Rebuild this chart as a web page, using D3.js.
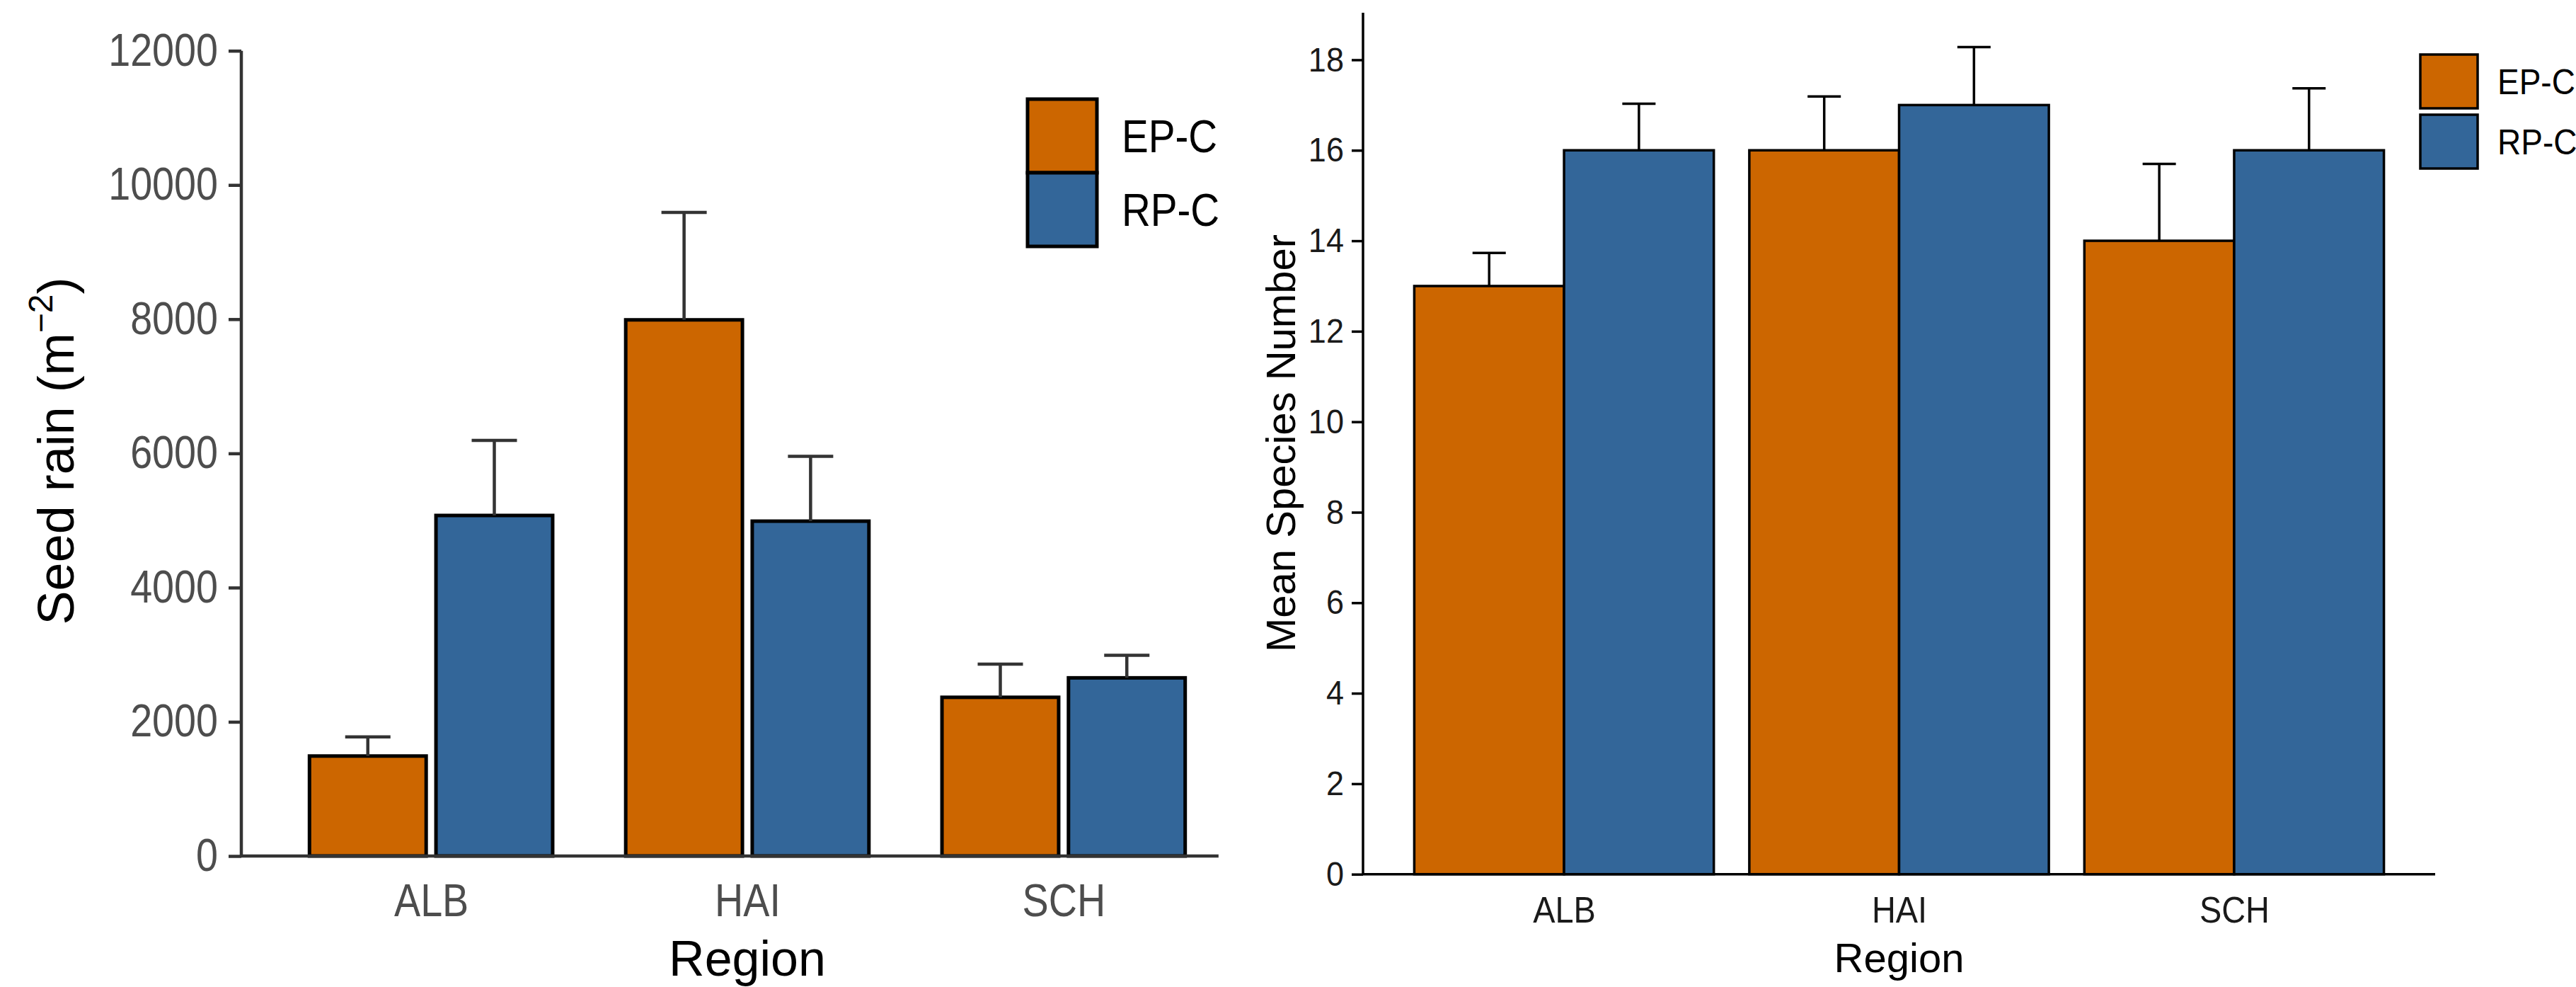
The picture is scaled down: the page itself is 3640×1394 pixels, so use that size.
<!DOCTYPE html>
<html>
<head>
<meta charset="utf-8">
<script src="https://cdnjs.cloudflare.com/ajax/libs/d3/7.8.5/d3.min.js"></script>
<style>
  body { margin: 0; background: #fff; }
  svg { display: block; font-family: "Liberation Sans", Arial, sans-serif; }
</style>
</head>
<body>
<div id="chart"></div>
<script>
const regions = ['ALB', 'HAI', 'SCH'];
const groups = ['EP-C', 'RP-C'];
const colors = ['#CC6600', '#336699'];

// left panel: seed rain
const seedRainEP = [1490, 7990, 2365];
const seedRainRP = [5075, 4990, 2655];
const seedRainEPse = [286, 1600, 495];
const seedRainRPse = [1118, 966, 335];
const seedTicks = [0, 2000, 4000, 6000, 8000, 10000, 12000];

// right panel: species number
const speciesEP = [13, 16, 14];
const speciesRP = [16, 17, 16];
const speciesEPse = [0.73, 1.19, 1.70];
const speciesRPse = [1.03, 1.28, 1.37];
const speciesTicks = [0, 2, 4, 6, 8, 10, 12, 14, 16, 18];

const svg = d3.select('#chart').append('svg')
  .attr('width', 3640)
  .attr('height', 1394);

function makeRows(ep, rp, epSe, rpSe) {
  let rows = [];
  regions.forEach(function(r, i) {
    rows.push({ region: r, group: 0, value: ep[i], se: epSe[i] });
    rows.push({ region: r, group: 1, value: rp[i], se: rpSe[i] });
  });
  return rows;
}

function drawPanel(p) {
  let g = svg.append('g');

  let x = d3.scalePoint().domain(regions).range([p.left, p.right]).padding(0.6);
  let step = x.step();
  let y = d3.scaleLinear().domain([0, p.yMax]).range([p.bottom, p.top]);

  let rows = makeRows(p.ep, p.rp, p.epSe, p.rpSe);

  // bars
  g.selectAll('rect.bar')
    .data(rows)
    .enter()
    .append('rect')
    .attr('class', 'bar')
    .attr('x', function(d) {
      let off = d.group === 0 ? -(p.gap / 2 + p.barW) : p.gap / 2;
      return x(d.region) + off * step;
    })
    .attr('y', function(d) { return y(d.value); })
    .attr('width', p.barW * step)
    .attr('height', function(d) { return y(0) - y(d.value); })
    .attr('fill', function(d) { return colors[d.group]; })
    .attr('stroke', '#000')
    .attr('stroke-width', p.barStroke);

  // error bars (upper only)
  let cx = function(d) {
    let sgn = d.group === 0 ? -1 : 1;
    return x(d.region) + sgn * (p.gap / 2 + p.barW / 2) * step;
  };
  g.selectAll('line.err')
    .data(rows)
    .enter()
    .append('line')
    .attr('x1', cx).attr('x2', cx)
    .attr('y1', function(d) { return y(d.value); })
    .attr('y2', function(d) { return y(d.value + d.se); })
    .attr('stroke', p.lineColor)
    .attr('stroke-width', p.errStroke);
  g.selectAll('line.cap')
    .data(rows)
    .enter()
    .append('line')
    .attr('x1', function(d) { return cx(d) - p.capW / 2; })
    .attr('x2', function(d) { return cx(d) + p.capW / 2; })
    .attr('y1', function(d) { return y(d.value + d.se); })
    .attr('y2', function(d) { return y(d.value + d.se); })
    .attr('stroke', p.lineColor)
    .attr('stroke-width', p.errStroke);

  // y axis
  let yAxis = g.append('g')
    .attr('transform', 'translate(' + p.left + ',0)')
    .call(d3.axisLeft(y).tickValues(p.ticks).tickSize(p.tickLen).tickPadding(p.tickPad).tickFormat(d3.format('d')));
  yAxis.select('.domain').remove();
  yAxis.append('line')
    .attr('x1', 0).attr('x2', 0)
    .attr('y1', y(0)).attr('y2', p.axisTop !== undefined ? p.axisTop : y(p.yMax))
    .attr('stroke', p.lineColor)
    .attr('stroke-width', p.axisStroke);
  yAxis.selectAll('.tick line')
    .attr('stroke', p.lineColor)
    .attr('stroke-width', p.axisStroke);
  yAxis.selectAll('.tick text')
    .attr('font-size', p.tickFont)
    .attr('font-family', '"Liberation Sans", Arial, sans-serif')
    .attr('fill', p.tickColor)
    .attr('x', -(p.tickLen + p.tickPad) / p.sx)
    .attr('transform', 'scale(' + p.sx + ',1)');

  // x axis
  let xAxis = g.append('g')
    .attr('transform', 'translate(0,' + p.bottom + ')')
    .call(d3.axisBottom(x).tickSize(0).tickPadding(p.xPad));
  xAxis.select('.domain').remove();
  xAxis.append('line')
    .attr('x1', p.left).attr('x2', x('SCH') + p.axisRightStep * step)
    .attr('y1', 0).attr('y2', 0)
    .attr('stroke', p.lineColor)
    .attr('stroke-width', p.axisStroke);
  xAxis.selectAll('.tick text')
    .attr('font-size', p.xTickFont)
    .attr('font-family', '"Liberation Sans", Arial, sans-serif')
    .attr('fill', p.tickColor)
    .attr('dy', '0.71em')
    .attr('transform', 'scale(' + p.sx + ',1)');

  // x title
  g.append('text')
    .attr('x', x('HAI'))
    .attr('y', p.xTitleY)
    .attr('text-anchor', 'middle')
    .attr('font-size', p.titleFont)
    .attr('fill', '#000')
    .text('Region');

  // legend
  let lg = g.append('g');
  groups.forEach(function(name, i) {
    lg.append('rect')
      .attr('x', p.legX)
      .attr('y', p.legY + i * (p.keyH + p.keyGap))
      .attr('width', p.keyW)
      .attr('height', p.keyH)
      .attr('fill', colors[i])
      .attr('stroke', '#000')
      .attr('stroke-width', p.barStroke);
    lg.append('text')
      .attr('transform', 'translate(' + p.legTextX + ',' + (p.legY + i * (p.keyH + p.keyGap) + p.keyH / 2) + ') scale(' + p.sx + ',1)')
      .attr('dy', '0.36em')
      .attr('font-size', p.legFont)
      .attr('fill', '#000')
      .text(name);
  });

  return { x: x, y: y, g: g };
}

// Seed rain panel
let left = drawPanel({
  left: 341, right: 1771, top: 71.7, bottom: 1209, yMax: 12000,
  ep: seedRainEP, rp: seedRainRP, epSe: seedRainEPse, rpSe: seedRainRPse,
  ticks: seedTicks,
  barW: 0.369, gap: 0.031, barStroke: 5, errStroke: 4.5, capW: 64,
  lineColor: '#333333', axisStroke: 4.5,
  tickLen: 18, tickPad: 15, tickFont: 64, xTickFont: 64, tickColor: '#4D4D4D', sx: 0.87,
  xPad: 40, axisRightStep: 0.49,
  titleFont: 70, xTitleY: 1378,
  legX: 1452, legY: 140, keyW: 98, keyH: 104, keyGap: 0, legTextX: 1585, legFont: 65
});

left.g.append('text')
  .attr('transform', 'translate(104,637) rotate(-90)')
  .attr('text-anchor', 'middle')
  .attr('font-size', 72)
  .attr('fill', '#000')
  .call(function(t) {
    t.append('tspan').text('Seed rain (m');
    t.append('tspan').attr('font-size', 48).attr('dy', -30).text('\u22122');
    t.append('tspan').attr('dy', 30).text(')');
  });

// Species number panel
let right = drawPanel({
  left: 1926, right: 3441, top: 18, bottom: 1234.7, yMax: 19.04,
  ep: speciesEP, rp: speciesRP, epSe: speciesEPse, rpSe: speciesRPse,
  ticks: speciesTicks,
  barW: 0.447, gap: 0, barStroke: 3.5, errStroke: 3.5, capW: 47,
  lineColor: '#000000', axisStroke: 3.5, axisTop: 18,
  tickLen: 16, tickPad: 11, tickFont: 49, xTickFont: 51, tickColor: '#1a1a1a', sx: 0.92,
  xPad: 32, axisRightStep: 0.6,
  titleFont: 58, xTitleY: 1373,
  legX: 3420, legY: 77, keyW: 81, keyH: 76, keyGap: 9, legTextX: 3529, legFont: 50
});

right.g.append('text')
  .attr('transform', 'translate(1830,626) rotate(-90)')
  .attr('text-anchor', 'middle')
  .attr('font-size', 58)
  .attr('fill', '#000')
  .text('Mean Species Number');
</script>
</body>
</html>
